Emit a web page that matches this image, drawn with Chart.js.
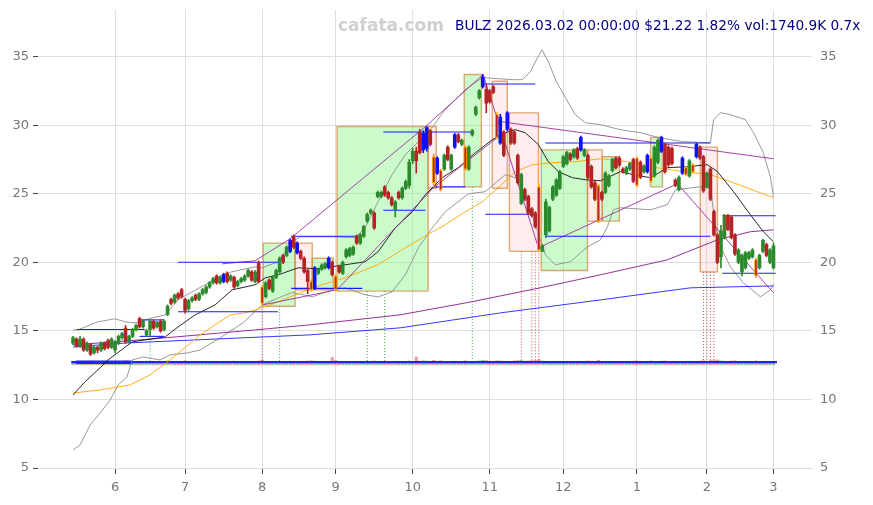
<!DOCTYPE html>
<html><head><meta charset="utf-8">
<script src="https://cdn.jsdelivr.net/npm/chart.js@4.4.1/dist/chart.umd.min.js"></script>
<style>
html,body{margin:0;padding:0;background:#fff;}
#wrap{position:relative;width:873px;height:505px;}
#wm{position:absolute;left:338px;top:15px;font:bold 17px "DejaVu Sans";color:#d0d0d0;white-space:nowrap;}
#ttl{position:absolute;left:455px;top:17px;font:13.7px "DejaVu Sans";color:#000080;white-space:nowrap;}
</style></head><body>
<div id="wrap"><canvas id="c" width="873" height="505"></canvas>
<div id="wm">cafata.com</div><div id="ttl">BULZ 2026.03.02 00:00:00 $21.22 1.82% vol:1740.9K 0.7x</div></div>
<script>
// ---------- data ----------
const monthIdx = [12,32,54,75,97,119,140,161,181,200];
const monthLabels = ['6','7','8','9','10','11','12','1','2','3'];

const opens = [14.1,14.4,13.9,14.4,13.6,14.0,13.4,13.8,13.6,14.1,14.3,13.8,13.6,14.1,14.5,15.2,14.2,14.6,15.1,15.9,
15.3,14.7,15.1,15.7,15.3,15.7,15.1,16.2,17.3,17.1,17.7,18.0,17.3,16.6,17.2,17.6,17.3,17.7,17.8,18.2,
18.5,19.0,18.5,18.6,19.2,18.7,18.9,18.3,18.6,18.7,19.0,19.3,18.6,20.0,18.2,17.5,18.7,17.9,18.9,19.3,
20.5,20.5,20.8,21.9,20.7,20.8,20.3,19.4,18.6,18.1,19.2,19.5,19.6,19.6,20.0,19.0,19.7,19.2,20.4,20.5,
20.6,21.9,21.4,21.9,23.0,23.6,23.6,24.8,24.8,25.5,25.1,24.7,23.8,25.1,24.7,25.4,25.6,27.4,28.1,29.5,
28.2,28.3,29.6,27.7,26.5,26.7,26.8,28.4,26.8,28.4,29.3,28.6,28.4,26.8,29.3,30.8,32.0,32.8,32.6,32.5,
32.8,30.8,28.7,29.5,29.7,29.7,29.5,27.8,24.3,25.3,24.8,23.9,23.6,25.5,20.8,22.0,22.3,24.6,24.9,25.4,
27.0,27.2,27.9,27.7,28.3,28.2,27.8,27.8,27.0,25.8,25.6,25.1,25.1,25.6,26.7,27.6,27.6,26.8,26.5,26.8,
27.5,27.6,27.3,26.6,26.6,27.6,26.3,27.3,28.1,28.6,28.4,28.3,26.0,25.3,26.5,26.9,26.3,27.1,27.7,28.4,
27.7,25.5,26.8,23.7,22.0,20.4,21.8,23.4,23.3,22.0,20.0,19.3,19.6,20.3,20.4,20.2,19.6,20.8,21.3,20.0,
19.6];
const highs = [14.6,14.5,14.6,14.5,14.2,14.1,13.9,13.9,14.2,14.2,14.4,14.5,14.3,14.7,14.9,15.4,14.7,15.2,15.5,16.0,
15.8,15.1,15.8,15.8,15.7,15.8,15.8,16.9,17.4,17.7,17.8,18.1,17.4,17.3,17.5,17.7,17.8,18.1,18.3,18.6,
18.9,19.1,19.0,19.2,19.3,19.1,19.0,18.7,18.9,19.1,19.5,19.4,19.4,20.1,18.3,18.6,18.8,19.0,19.5,20.4,
20.6,21.2,21.7,22.0,21.5,20.9,20.4,19.5,18.7,19.7,19.6,19.9,20.0,20.4,20.1,19.1,19.8,20.1,21.0,21.1,
21.2,22.0,22.1,22.7,23.6,23.9,23.7,25.2,25.2,25.6,25.2,24.8,24.5,25.2,25.5,26.0,27.5,28.3,28.4,29.7,
29.6,29.9,29.7,27.9,27.7,26.8,27.9,28.5,27.9,29.4,29.4,29.0,28.5,28.5,29.7,31.4,32.6,33.7,33.0,32.6,
32.9,30.9,30.8,29.6,31.0,29.8,29.6,27.9,26.5,25.4,24.9,24.0,23.7,25.7,21.3,24.6,24.1,25.6,26.1,26.7,
27.8,28.1,28.0,28.3,28.4,29.2,28.3,27.9,27.1,25.9,25.7,25.2,26.6,26.4,27.6,27.7,27.7,26.9,27.0,27.3,
27.6,27.7,27.4,27.1,27.9,27.7,28.5,29.0,29.2,28.7,28.5,28.4,26.1,26.3,27.7,27.0,27.5,27.2,28.7,28.5,
27.8,26.6,26.9,23.8,22.1,22.7,23.5,23.5,23.4,22.1,21.0,20.6,20.8,20.8,21.0,20.3,20.6,21.7,21.4,21.0,
21.4];
const lows = [14.0,13.8,13.8,13.5,13.5,13.2,13.3,13.4,13.5,13.6,13.7,13.7,13.4,14.0,14.4,14.1,14.1,14.5,15.0,15.2,
15.2,14.6,14.6,15.1,15.2,14.9,15.0,16.1,16.9,17.0,17.3,17.4,16.3,16.5,17.1,17.2,17.2,17.6,17.7,18.1,
18.4,18.4,18.4,18.5,18.5,18.6,18.1,18.2,18.5,18.6,18.9,18.6,18.5,18.5,16.9,17.4,18.0,17.8,18.8,19.2,
19.9,20.4,20.7,21.0,20.6,20.2,19.2,17.7,17.9,18.0,19.1,19.4,19.5,19.5,19.0,17.9,19.2,19.1,20.3,20.4,
20.5,21.3,21.3,21.8,22.9,23.5,22.4,24.7,24.7,24.8,24.6,24.1,23.3,24.6,24.6,25.3,25.4,27.2,26.5,27.9,
28.0,28.1,28.5,25.5,26.4,25.2,26.7,27.4,26.7,28.3,28.7,28.5,26.7,26.7,29.2,30.7,31.9,32.7,30.9,31.6,
32.3,29.0,28.6,27.7,29.6,28.6,28.6,25.7,24.2,24.5,23.5,23.3,22.5,20.8,20.8,21.8,22.2,24.5,24.8,25.3,
26.9,27.1,27.4,27.6,27.5,28.1,27.7,26.1,25.4,24.5,22.9,24.5,25.0,25.5,26.6,26.8,27.0,26.5,26.4,26.7,
25.8,25.5,26.1,26.5,26.5,25.8,26.2,27.2,28.0,26.5,27.0,27.1,25.5,25.2,26.4,26.3,26.2,26.5,27.6,27.5,
25.1,25.4,24.5,21.9,19.9,19.6,21.7,22.3,21.7,20.5,19.9,19.0,19.5,20.2,20.3,18.9,19.5,20.7,20.4,19.9,
19.5];
const closes = [14.5,13.9,14.4,13.6,14.1,13.3,13.8,13.6,14.1,13.7,13.8,14.4,14.2,14.6,14.8,14.2,14.6,15.1,15.4,15.3,
15.7,15.0,15.7,15.2,15.6,15.0,15.7,16.8,17.0,17.6,17.4,17.5,16.5,17.2,17.4,17.3,17.7,18.0,18.2,18.5,
18.8,18.5,18.9,19.1,18.6,19.0,18.2,18.6,18.8,19.0,19.4,18.7,19.3,18.6,17.0,18.5,18.1,18.9,19.4,20.3,
20.0,21.1,21.6,21.1,21.4,20.3,19.3,18.6,18.0,19.6,19.5,19.8,19.9,20.3,19.1,18.0,19.3,20.0,20.9,21.0,
21.1,21.4,22.0,22.6,23.5,23.8,22.5,25.1,25.1,24.9,24.7,24.2,24.4,24.7,25.4,25.9,27.3,28.1,27.4,28.0,
29.4,29.8,28.6,25.8,27.6,25.3,27.8,27.5,27.8,29.3,28.8,28.9,26.8,28.4,29.6,31.3,32.5,33.5,31.6,31.7,
32.4,29.1,30.6,27.8,30.9,28.7,28.7,25.8,26.4,24.6,23.6,23.4,22.6,20.9,21.2,24.4,24.0,25.5,26.0,26.6,
27.7,28.0,27.5,28.2,27.6,29.1,28.2,26.2,25.5,24.6,23.0,24.6,26.5,26.3,27.5,26.9,27.1,26.6,26.9,27.2,
25.9,25.6,26.2,27.0,27.8,25.9,28.4,28.9,29.1,26.6,27.1,27.2,25.6,26.2,27.6,26.4,27.4,26.6,28.6,27.6,
25.2,26.5,24.6,22.0,20.0,22.3,23.4,22.4,21.8,20.6,20.9,20.5,20.7,20.7,20.9,19.0,20.5,21.6,20.5,20.9,
21.2];
const volumes = [1.6,1.4,1.5,1.8,1.3,1.9,1.5,1.2,1.4,1.3,1.6,1.5,1.4,1.7,1.3,2.0,1.4,1.5,1.6,1.7,
1.3,1.8,1.4,1.5,1.2,1.6,1.4,1.9,1.5,1.3,1.4,1.6,2.0,1.5,1.2,1.3,1.4,1.5,1.3,1.4,
1.5,1.6,1.3,1.7,1.5,1.4,1.8,1.3,1.2,1.4,1.5,1.6,1.3,1.9,2.4,1.6,1.5,1.4,1.3,1.7,
1.5,1.4,1.8,1.6,1.7,1.5,1.6,1.9,2.0,1.8,1.4,1.3,1.2,1.6,3.6,2.1,1.5,1.4,1.6,1.3,
1.4,1.6,1.5,1.7,1.8,1.4,1.9,1.6,1.5,1.7,1.5,1.6,1.8,1.5,1.4,1.5,1.9,1.7,3.8,1.8,
2.0,1.9,1.7,2.2,1.8,2.0,1.6,1.7,1.5,1.8,1.6,1.5,2.0,1.7,1.6,1.8,1.9,2.2,2.1,1.8,
1.7,2.0,1.9,1.8,1.7,1.6,1.9,2.1,2.2,1.8,1.9,2.0,2.1,2.6,1.9,1.8,1.6,1.5,1.7,1.6,
1.5,1.4,1.6,1.5,1.7,1.8,1.5,1.9,1.8,1.7,2.2,1.6,1.5,1.4,1.6,1.5,1.7,1.3,1.4,1.5,
1.8,1.9,1.6,1.4,1.7,1.9,1.6,1.5,1.8,1.9,1.7,1.6,1.8,1.5,1.6,1.5,1.4,1.6,1.7,1.8,
2.0,1.7,2.1,2.3,2.4,1.9,1.8,1.7,1.9,2.0,1.6,1.7,1.5,1.4,1.6,1.9,1.5,1.6,1.7,1.5,
1.74];
const blueIdx = [43,62,64,69,73,100,101,104,109,117,122,124,145,164,168,174,178];
const orangeIdx = [54,68,75,103,105,112,121,133,150,161,165,175,177,195];

const ma20 = [[0,10.33],[3.4,11.28],[7.7,12.30],[10,12.88],[16.9,14.20],[26.3,14.56],[30,15.29],[34.9,16.17],[40.6,16.90],[45.4,17.99],[52,18.36],[54.9,18.87],[58.6,19.09],[64.3,19.60],[70,19.53],[77.7,19.82],[83.4,20.04],[87.1,20.77],[92,22.52],[96.9,23.69],[100.6,24.93],[105.4,26.17],[110,26.90],[114.9,27.99],[119.7,28.94],[123.4,29.45],[126.3,29.67],[129.1,29.45],[132.9,28.58],[135.7,27.34],[138.6,26.61],[142.6,26.17],[146.3,26.02],[150.6,25.95],[156.3,26.61],[160,26.39],[164.9,26.17],[169.7,26.90],[175.4,26.97],[181.1,27.12],[184,26.61],[188.6,25.15],[193.4,23.47],[197.1,22.23],[200,21.50]];
const ma50 = [[0,10.47],[7.7,10.69],[16.3,11.06],[22,11.79],[27.7,12.88],[36.3,14.71],[44.9,16.17],[49.1,16.31],[54,16.7],[58.6,17.12],[68.3,18.14],[77.7,18.87],[87.1,19.82],[94.9,21.06],[100.6,21.93],[106.3,22.74],[112,23.69],[116.9,24.42],[121.4,25.44],[126.3,26.61],[131.1,27.12],[136.9,27.26],[143.4,27.34],[150.6,27.55],[158.3,27.34],[164.9,26.97],[174.3,26.61],[182,26.39],[188.6,25.80],[195.4,25.15],[200,24.71]];
const ma100 = [[0,13.98],[15.4,14.27],[26.3,14.49],[52,15.07],[67.7,15.44],[93.4,16.17],[113.4,17.1],[133.4,18.14],[150.6,19.09],[169.7,20.18],[184,21.64],[193.4,22.23],[200,22.37]];
const ma200 = [[0,13.83],[15.4,14.12],[67.7,14.71],[93.4,15.22],[122,16.31],[150.6,17.26],[176.3,18.14],[200,18.28]];
const bbUpper = [[0,15.07],[1.4,15.07],[7.1,15.66],[12,15.88],[14.9,15.66],[17.7,15.58],[22.6,15.95],[26.3,16.17],[30,17.26],[34,17.85],[37.7,18.36],[41.4,18.94],[45.4,19.31],[52,19.67],[54,19.60],[58.6,20.04],[62.6,21.50],[64.9,21.86],[74,21.86],[80.6,21.79],[83.4,22.52],[87.1,24.42],[91.1,26.39],[94.9,27.85],[98.6,28.80],[102,29.67],[106.3,31.13],[112,32.59],[116.9,33.47],[125.4,33.32],[128.3,33.32],[130.6,33.9],[132.6,34.9],[133.9,35.5],[135.7,34.64],[138,33.18],[140.6,32.01],[143.4,30.77],[146.3,30.18],[150.6,30.04],[156.3,29.67],[162,29.45],[166.3,29.16],[170.6,28.94],[174.3,28.80],[182,28.72],[182.9,30.40],[184.9,30.91],[187.7,30.77],[192,30.40],[194.3,29.45],[197.1,27.99],[199.1,26.24],[200,24.78]];
const bbLower = [[0,6.31],[2,6.68],[4.9,8.14],[7.7,9.01],[10.6,9.96],[12.9,11.06],[15.4,11.64],[16.9,12.88],[20,13.10],[24.9,12.88],[27.7,13.25],[32.6,13.39],[36.3,13.61],[42,14.49],[48.6,15.6],[54,16.9],[58.6,17.4],[62.6,17.8],[68.3,17.48],[74,17.99],[77.7,18.14],[83.4,17.63],[87.1,17.48],[91.1,17.85],[94.9,19.09],[98.6,21.06],[102.6,22.52],[106.3,23.69],[112.9,25.0],[117.7,25.15],[123.4,26.39],[126.3,26.17],[129.1,24.93],[132,22.74],[134.9,20.55],[137.7,19.82],[142,20.04],[146.9,21.13],[150.6,21.64],[152.6,22.59],[154.3,23.83],[156.3,23.98],[164.9,23.83],[169.7,24.20],[172,25.29],[179.1,25.51],[182,25.44],[183.4,22.74],[184.9,21.13],[187.7,19.67],[191.4,18.50],[196.3,17.48],[199.1,17.99],[200,18.36]];

// trend boxes: [startIdx, endIdx, low, high, kind]
const boxes = [[54.3,63.4,16.8,21.4,'g'],[63.4,68.3,18.0,21.4,'p'],[68.3,74.3,18.0,20.3,'g'],[75.4,101.4,17.9,29.9,'g'],
[101.4,103.7,25.4,29.9,'p'],[111.7,116.6,25.5,33.7,'g'],[119.7,124,25.4,33.2,'p'],[124.6,132.9,20.8,30.9,'p'],
[133.7,146.9,19.4,28.2,'g'],[146.9,151.1,23.0,28.2,'p'],[151.1,156,23.0,27.7,'g'],[164.9,168.3,25.5,29.1,'g'],[179.1,184,19.3,28.4,'p']];
// support / resistance levels: [startIdx, endIdx, price]
const levels = [[1,20.5,15.1],[19,26,15.8],[19,26,14.6],[30,58.5,20.0],[30,58.5,16.4],[62.3,82.3,21.9],[62.3,82.6,18.1],
[88.6,114,29.5],[88.6,100.6,23.8],[102.9,112,25.5],[117.4,132,33.0],[117.7,132.6,23.5],[134.9,182,21.9],[134.9,182,28.7],
[185.4,200.6,23.4],[185.4,200.6,19.2]];
// trend lines (polylines of [idx, price])
const trendLines = [
 [[42.6,19.89],[52,20.11],[62,21.72],[100.6,29.89],[117.1,33.69]],
 [[117.1,33.69],[132.9,21.06]],
 [[132.9,21.06],[172.6,25.73]],
 [[172.6,25.73],[200,17.77]],
 [[122,30.26],[200,27.55]],
 [[54.3,16.9],[75.4,18.0],[102.9,25.44],[121.1,29.09]]
];
// signal markers: [idx, fromPrice, kind]
const signals = [[22,14.6,'g'],[54,16.8,'r'],[59,16.8,'g'],[84,17.9,'g'],[89,17.9,'g'],[114,25.5,'g'],
[128,20.8,'r'],[131,20.8,'r'],[132,20.8,'r'],[133,20.8,'r'],[180,19.3,'r'],[181,19.3,'r'],[182,19.3,'r'],[183,19.3,'r']];
const volumeBase = 12.72;

// ---------- build ----------
const GREEN='#2b8a2b', RED='#b52424', BLUE='#1010ff', ORANGE='#ffa200';
const idx = closes.map((_,i)=>i);
const isUp = i => closes[i] >= opens[i];
const baseCol = i => blueIdx.includes(i) ? BLUE : (isUp(i) ? GREEN : RED);
const wickCol = i => orangeIdx.includes(i) ? ORANGE : baseCol(i);

function line(points, color, width, order, dash){
  return {type:'line', data: points.map(p=>({x:p[0], y:p[1]})), borderColor: color, borderWidth: width,
    pointRadius:0, pointHoverRadius:0, fill:false, tension:0, borderDash: dash || [], order, yAxisID:'y'};
}
const datasets = [];
boxes.forEach(b=>{
  const fillCol = b[4]==='g' ? 'rgba(130,245,130,0.42)' : 'rgba(255,185,185,0.28)';
  datasets.push({type:'line', data:[{x:b[0],y:b[3]},{x:b[1],y:b[3]}], borderWidth:0, borderColor:'rgba(0,0,0,0)',
    backgroundColor: fillCol, fill:{value:b[2]}, pointRadius:0, tension:0, order:100, yAxisID:'y'});
  datasets.push(line([[b[0],b[2]],[b[0],b[3]],[b[1],b[3]],[b[1],b[2]],[b[0],b[2]]], 'rgba(214,140,70,0.75)', 1.4, 95));
});
datasets.push({type:'bar', data: idx.map(i=>({x:i, y:volumes[i]})), yAxisID:'yv', grouped:false, barThickness:2.6,
  backgroundColor: idx.map(i=> isUp(i) ? 'rgba(60,160,80,0.55)' : 'rgba(210,80,100,0.55)'), order:80});
datasets.push(line([[-0.5,volumeBase],[201,volumeBase]], '#2222ee', 2.2, 70));
datasets.push(line([[0.8,volumeBase],[17,volumeBase]], '#2222ee', 3.5, 69));
signals.forEach(s=>{
  datasets.push(line([[s[0],s[1]],[s[0],volumeBase]], s[2]==='g' ? 'rgba(40,150,40,0.9)' : 'rgba(200,50,50,0.9)', 1, 75, [1,2]));
});
datasets.push(line(bbUpper, '#8c8c8c', 0.9, 30));
datasets.push(line(bbLower, '#8c8c8c', 0.9, 30));
datasets.push(line(ma200, '#2020ff', 0.9, 29));
datasets.push(line(ma100, '#8a1a8a', 0.9, 29));
datasets.push(line(ma50, '#ffa500', 0.9, 28));
datasets.push(line(ma20, '#111111', 0.9, 27));
trendLines.forEach(t=> datasets.push(line(t, '#9b2f9b', 0.9, 26)));
levels.forEach(l=> datasets.push(line([[l[0],l[2]],[l[1],l[2]]], '#1a1aff', 1.1, 25)));
datasets.push({type:'bar', data: idx.map(i=>({x:i, y:[lows[i], highs[i]]})), backgroundColor: idx.map(wickCol),
  barThickness:1, grouped:false, order:2, yAxisID:'y'});
datasets.push({type:'bar', data: idx.map(i=>({x:i, y:[opens[i], closes[i]]})), backgroundColor: idx.map(baseCol),
  borderColor: idx.map(wickCol), borderWidth: idx.map(i=> orangeIdx.includes(i) ? 1 : 0), borderSkipped:false,
  barThickness:3, minBarLength:1, grouped:false, order:1, yAxisID:'y'});

const tickFont = {family:'DejaVu Sans', size:13};
const fitY = w => s => { s.width = w; s.paddingTop = 0; s.paddingBottom = 0; };
new Chart(document.getElementById('c'), {
  type:'line',
  data:{datasets},
  options:{
    responsive:false, animation:false, events:[],
    layout:{padding:{top:10, left:0, right:0, bottom:0}},
    plugins:{legend:{display:false}, tooltip:{enabled:false}},
    scales:{
      x:{type:'linear', min:-10, max:211, offset:false,
        afterBuildTicks: ax => { ax.ticks = monthIdx.map(v=>({value:v})); },
        ticks:{callback:(v,i)=>monthLabels[i], color:'#777', font:tickFont, maxRotation:0, autoSkip:false, padding:6},
        grid:{color:'#dedede', tickColor:'#444', tickLength:6, offset:false},
        border:{color:'#dedede'},
        afterFit: s => { s.height = 37; s.paddingLeft = 0; s.paddingRight = 0; }},
      y:{position:'left', min:5, max:38.4,
        ticks:{stepSize:5, includeBounds:false, color:'#777', font:tickFont, padding:4},
        grid:{color:'#dedede', tickColor:'#444', tickLength:5},
        border:{display:false},
        afterFit: fitY(38)},
      y2:{position:'right', min:5, max:38.4,
        ticks:{stepSize:5, includeBounds:false, color:'#777', font:tickFont, padding:8},
        grid:{drawOnChartArea:false, drawTicks:false},
        border:{display:false},
        afterFit: fitY(61)},
      yv:{display:false, min:-50, max:172}
    }
  }
});
</script>
</body></html>
